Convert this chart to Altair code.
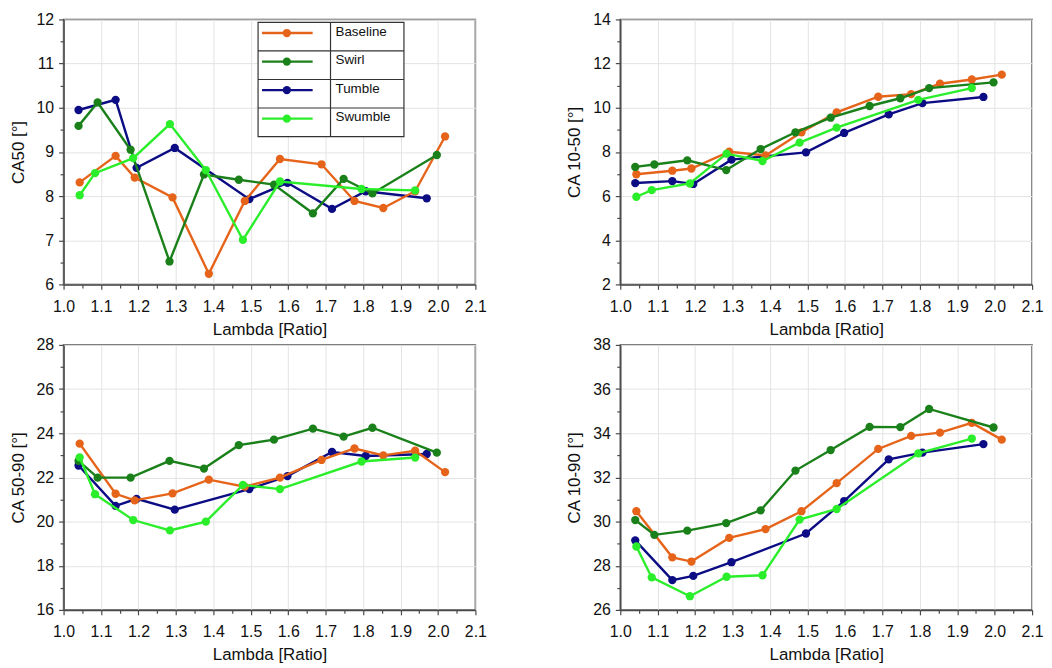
import altair as alt
import pandas as pd

# ---------------- data ----------------
SERIES = ["Baseline", "Swirl", "Tumble", "Swumble"]
COLORS = ["#E6641A", "#1A801A", "#0C0C84", "#2BEE2B"]
DRAW_ORDER = ["Tumble", "Baseline", "Swirl", "Swumble"]

LAMBDA = {
    "Baseline": [1.043, 1.139, 1.190, 1.291, 1.388, 1.484, 1.578, 1.689, 1.777, 1.854, 1.939, 2.019],
    "Swirl":    [1.040, 1.091, 1.179, 1.283, 1.375, 1.468, 1.562, 1.666, 1.748, 1.825, 1.997],
    "Tumble":   [1.040, 1.139, 1.195, 1.297, 1.496, 1.598, 1.717, 1.807, 1.970],
    "Swumble":  [1.043, 1.084, 1.186, 1.284, 1.380, 1.479, 1.578, 1.796, 1.939],
}
CA50 = {
    "Baseline": [8.31, 8.91, 8.42, 7.97, 6.24, 7.89, 8.84, 8.72, 7.89, 7.73, 8.11, 9.35],
    "Swirl":    [9.59, 10.12, 9.05, 6.52, 8.49, 8.37, 8.26, 7.61, 8.39, 8.06, 8.93],
    "Tumble":   [9.95, 10.18, 8.64, 9.09, 7.93, 8.30, 7.71, 8.11, 7.95],
    "Swumble":  [8.02, 8.52, 8.86, 9.63, 8.59, 7.01, 8.33, 8.16, 8.13],
}
CA10_50 = {
    "Baseline": [6.99, 7.15, 7.25, 8.01, 7.84, 8.89, 9.79, 10.50, 10.62, 11.09, 11.28, 11.50],
    "Swirl":    [7.32, 7.43, 7.62, 7.18, 8.13, 8.89, 9.55, 10.08, 10.43, 10.89, 11.15],
    "Tumble":   [6.59, 6.68, 6.55, 7.65, 7.98, 8.86, 9.70, 10.21, 10.49],
    "Swumble":  [5.97, 6.27, 6.57, 7.92, 7.59, 8.42, 9.10, 10.36, 10.89],
}
CA50_90 = {
    "Baseline": [23.53, 21.26, 20.96, 21.28, 21.90, 21.58, 21.99, 22.79, 23.31, 23.00, 23.21, 22.24],
    "Swirl":    [22.75, 21.99, 21.99, 22.75, 22.40, 23.46, 23.71, 24.21, 23.85, 24.25, 23.12],
    "Tumble":   [22.54, 20.71, 21.03, 20.54, 21.47, 22.06, 23.15, 22.97, 23.06],
    "Swumble":  [22.91, 21.24, 20.07, 19.60, 20.00, 21.66, 21.47, 22.72, 22.90],
}
CA10_90 = {
    "Baseline": [30.47, 28.38, 28.19, 29.26, 29.66, 30.47, 31.74, 33.29, 33.88, 34.03, 34.47, 33.71],
    "Swirl":    [30.07, 29.40, 29.59, 29.93, 30.51, 32.31, 33.24, 34.29, 34.28, 35.10, 34.26],
    "Tumble":   [29.15, 27.35, 27.54, 28.16, 29.46, 30.93, 32.82, 33.12, 33.51],
    "Swumble":  [28.87, 27.47, 26.62, 27.50, 27.57, 30.09, 30.57, 33.09, 33.76],
}

X_TITLE = "Lambda [Ratio]"
X_DOMAIN = [1.0, 2.1]
X_TICKS = [round(1.0 + 0.05 * i, 2) for i in range(23)]

# (y title, values, y min, y max, major step, minor step)
PANELS = [
    ("CA50 [°]", CA50, 6, 12, 1, 0.5),
    ("CA 10-50 [°]", CA10_50, 2, 14, 2, 1),
    ("CA 50-90 [°]", CA50_90, 16, 28, 2, 1),
    ("CA 10-90 [°]", CA10_90, 26, 38, 2, 1),
]

# ---------------- style ----------------
FONT = "Liberation Sans"
W, H = 415, 267
FRAME = "#4a4a4a"
COLOR_OF = dict(zip(SERIES, COLORS))
LINE_W = 2.4
PT_SIZE = 70


def major_test(step):
    return f"abs(datum.value / {step} - round(datum.value / {step})) < 0.001"


def x_axis():
    t = major_test(0.1)
    return alt.Axis(
        values=X_TICKS, format=".1f", title=X_TITLE,
        labelExpr=f"{t} ? datum.label : ''",
        gridOpacity={"condition": {"test": t, "value": 1}, "value": 0},
        tickSize={"condition": {"test": t, "value": 5}, "value": 3.5},
        labelFlush=False, labelOverlap=False,
        labelPadding=9, titlePadding=7,
    )


def y_axis(title, lo, hi, major, minor):
    n = int(round((hi - lo) / minor))
    vals = [lo + minor * i for i in range(n + 1)]
    t = major_test(major)
    return alt.Axis(
        values=vals, title=title,
        labelExpr=f"{t} ? format(datum.value, 'd') : ''",
        gridOpacity={"condition": {"test": t, "value": 1}, "value": 0},
        tickSize={"condition": {"test": t, "value": 5}, "value": 3.5},
        labelFlush=False, labelOverlap=False,
        labelPadding=5, titlePadding=9,
    )


def legend_layers():
    x0, x1, y0, row_h = 196, 343, 3, 28.75
    div_x = 269
    sx0, sx1, scx, tx = 200, 251, 225, 274
    one = pd.DataFrame({"k": [0]})
    layers = [
        alt.Chart(one).mark_rect(fill="white", stroke="#333333", strokeWidth=1.2).encode(
            x=alt.value(x0), x2=alt.value(x1), y=alt.value(y0), y2=alt.value(y0 + 4 * row_h)
        ),
        alt.Chart(one).mark_rule(color="#333333", strokeWidth=1.2).encode(
            x=alt.value(div_x), y=alt.value(y0), y2=alt.value(y0 + 4 * row_h)
        ),
    ]
    for i in range(1, 4):
        layers.append(
            alt.Chart(one).mark_rule(color="#333333", strokeWidth=1.2).encode(
                x=alt.value(x0), x2=alt.value(x1), y=alt.value(y0 + i * row_h)
            )
        )
    for i, name in enumerate(SERIES):
        yc = y0 + i * row_h + 10.7
        c = COLOR_OF[name]
        nm = pd.DataFrame({"name": [name]})
        layers.append(
            alt.Chart(nm).mark_rule(color=c, strokeWidth=LINE_W).encode(
                x=alt.value(sx0), x2=alt.value(sx1), y=alt.value(yc)
            )
        )
        layers.append(
            alt.Chart(nm).mark_point(filled=True, size=PT_SIZE, color=c, opacity=1).encode(
                x=alt.value(scx), y=alt.value(yc)
            )
        )
        layers.append(
            alt.Chart(nm).mark_text(align="left", baseline="middle", font=FONT, fontSize=13.5,
                                    color="#111111").encode(
                x=alt.value(tx), y=alt.value(yc - 1.5), text="name:N"
            )
        )
    return layers


def panel(title, values, lo, hi, major, minor, with_legend=False):
    layers = []
    for name in DRAW_ORDER:
        df = pd.DataFrame({"lam": LAMBDA[name], "v": values[name]})
        c = COLOR_OF[name]
        layers.append(
            alt.Chart(df).mark_line(
                color=c, strokeWidth=LINE_W,
                point=alt.OverlayMarkDef(filled=True, size=PT_SIZE, color=c, opacity=1),
            ).encode(
                x=alt.X("lam:Q", scale=alt.Scale(domain=X_DOMAIN, nice=False, zero=False),
                        axis=x_axis()),
                y=alt.Y("v:Q", scale=alt.Scale(domain=[lo, hi], nice=False, zero=False),
                        axis=y_axis(title, lo, hi, major, minor)),
            )
        )
    if with_legend:
        layers += legend_layers()
    return alt.layer(*layers).properties(width=W, height=H)


charts = [panel(*p, with_legend=(i == 0)) for i, p in enumerate(PANELS)]

chart = alt.concat(
    *charts, columns=2, spacing={"row": 61, "column": 146}, bounds="flush"
).properties(
    padding=0
).configure_axis(
    labelFont=FONT, labelFontSize=16, labelColor="#111111",
    titleFont=FONT, titleFontSize=17, titleFontWeight="normal", titleColor="#111111",
    domainColor=FRAME, domainWidth=1.5,
    tickColor=FRAME, tickWidth=1.2,
    gridColor="#e3e3e3", gridWidth=1,
).configure_view(
    stroke=FRAME, strokeWidth=1.5
)

chart.save("out.html", embed_options={"renderer": "svg", "actions": False})
